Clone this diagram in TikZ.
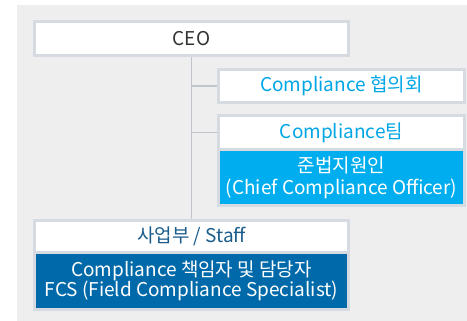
\documentclass[tikz,border=0pt]{standalone}
\usepackage{fontspec}
\setmainfont{Noto Sans CJK KR}
\usepackage{xcolor}
\usetikzlibrary{positioning,backgrounds}
\definecolor{bggray}{HTML}{EEEEEE}
\definecolor{framegray}{HTML}{D5DBE0}
\definecolor{linegray}{HTML}{BFC5CB}
\definecolor{cyantext}{HTML}{00A6E5}
\definecolor{lightblue}{HTML}{00AEEF}
\definecolor{darkblue}{HTML}{0069A9}
\definecolor{stafftext}{HTML}{1A5C8C}
\tikzset{
  orgbox/.style={draw=framegray, line width=3pt, fill=white, inner sep=0pt, font=\fontsize{19}{22}\selectfont},
  wideorg/.style={orgbox, minimum width=314pt},
  sideorg/.style={orgbox, minimum width=246pt},
  bluebox/.style={fill=lightblue, text=white, align=center, font=\fontsize{19}{21.5}\selectfont},
  deepbox/.style={fill=darkblue, text=white, align=center, font=\fontsize{19}{20.5}\selectfont},
  link/.style={draw=linegray, line width=1.5pt}
}
\begin{document}
\begin{tikzpicture}[x=1pt, y=-1pt]
  \useasboundingbox (0,0) rectangle (467,321);

  \node[wideorg, minimum height=34pt, text=black!80] (ceo) at (191.5,38.5) {CEO};
  \node[sideorg, minimum height=33pt, text=cyantext] (council) at (341.5,86) {Compliance 협의회};
  \node[sideorg, minimum height=34pt, text=cyantext] (team) at (341.5,132.5) {Compliance팀};
  \node[sideorg, bluebox, minimum height=56.5pt] (cco) at (341.5,177.75) {준법지원인\\(Chief Compliance Officer)};
  \node[wideorg, minimum height=32pt, text=stafftext] (staff) at (191.5,236.5) {사업부 / Staff};
  \node[wideorg, deepbox, minimum height=57pt] (fcs) at (191.5,281) {Compliance 책임자 및 담당자\\FCS (Field Compliance Specialist)};

  \begin{scope}[on background layer]
    \fill[bggray] (17,5) rectangle (467,321);
    \draw[link] (ceo.south) -- (staff.north);
    \draw[link] (ceo.south |- council.west) -- (council.west);
    \draw[link] (ceo.south |- team.west) -- (team.west);
  \end{scope}
\end{tikzpicture}
\end{document}
